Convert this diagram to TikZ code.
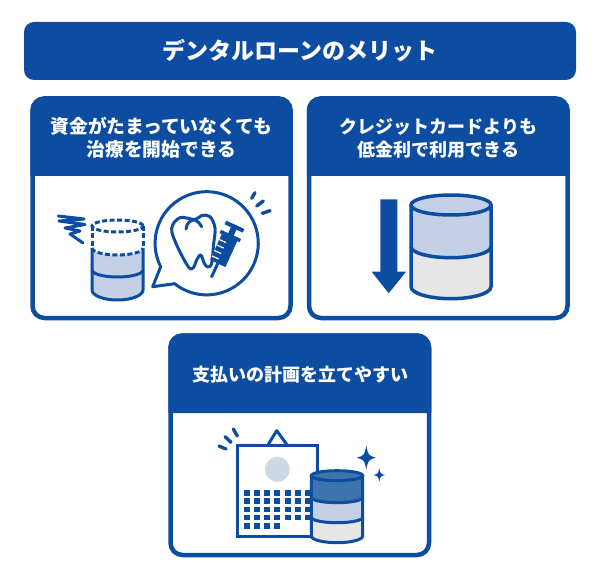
\documentclass[tikz,border=0pt]{standalone}
\usepackage{fontspec}
\setmainfont{Noto Sans CJK JP}
\definecolor{navy}{HTML}{0D4DA1}
\definecolor{paleblue}{HTML}{C3D0E6}
\definecolor{midblue}{HTML}{3D74AE}
\definecolor{palegray}{HTML}{E6E6E6}
\definecolor{moon}{HTML}{CDD8E6}
\begin{document}
\begin{tikzpicture}[
    x=1pt, y=1pt,
    banner/.style={rectangle, rounded corners=10pt, fill=navy, text=white, minimum width=552pt, minimum height=58pt, inner sep=0pt, font=\fontsize{23}{23}\selectfont\bfseries},
    headtext/.style={text=white, align=center, inner sep=0pt, font=\fontsize{18}{23}\selectfont\bfseries},
    cardline/.style={draw=navy, line width=4.5pt, fill=white, rounded corners=12pt},
    ink/.style={draw=navy, line width=3.5pt},
    thinink/.style={draw=navy, line width=3pt},
    tick/.style={draw=navy, line width=3.4pt, line cap=round},
    dashink/.style={thinink, dash pattern=on 5pt off 2.5pt}
]
\useasboundingbox (0,0) rectangle (600,-580);

% Cards
\foreach \xa/\xb/\ya/\yb/\yh in {32.5/290.5/-98.5/-318/-176, 309/567.5/-98.5/-318/-176, 170.5/429/-335.5/-555/-413} {
  \draw[cardline] (\xa,\ya) rectangle (\xb,\yb);
  \fill[navy] (\xa,\yh) [rounded corners=12pt] -- (\xa,\ya) -- (\xb,\ya) [sharp corners] -- (\xb,\yh) -- cycle;
  \draw[navy, line width=4.5pt, rounded corners=12pt] (\xa,\yh) -- (\xa,\ya) -- (\xb,\ya) -- (\xb,\yh);
}

% Titles
\node[banner] (title) at (300,-51) {\raisebox{-1pt}{デンタルローンのメリット}};
\node[headtext, font=\fontsize{18.8}{23}\selectfont\bfseries] (head1) at (161.5,-138) {資金がたまっていなくても\\治療を開始できる};
\node[headtext] (head2) at (438.5,-138) {クレジットカードよりも\\低金利で利用できる};
\node[headtext] (head3) at (300,-375) {支払いの計画を立てやすい};

% Card 1: can
\fill[paleblue] (92,-248) arc[start angle=180, end angle=360, x radius=25.5, y radius=7] -- (143,-290) arc[start angle=0, end angle=-180, x radius=25.5, y radius=10] -- cycle;
\draw[thinink] (92,-248) -- (92,-290) arc[start angle=180, end angle=360, x radius=25.5, y radius=10] -- (143,-248);
\draw[thinink] (92,-270) arc[start angle=180, end angle=360, x radius=25.5, y radius=7];
\draw[dashink] (92,-248) arc[start angle=180, end angle=360, x radius=25.5, y radius=7];
\draw[dashink] (117.5,-226) ellipse[x radius=25.5, y radius=6];
\draw[dashink] (92,-226) -- (92,-248);
\draw[dashink] (143,-226) -- (143,-248);

% Card 1: scribble
\draw[navy, line width=3pt, line join=round, line cap=round] (58.3,-216) -- (84,-219) -- (59,-221) -- (85,-224.5) -- (65,-228) -- (80,-231) -- (70,-234) -- (83,-243);

% Card 1: speech bubble
\draw[thinink, line join=round] (152.7,-286.7) -- (160.7,-266.7) arc[start angle=207, end angle=-128.4, radius=51.6] -- cycle;

% Card 1: tooth
\draw[thinink, line join=round] plot[smooth cycle, tension=0.6] coordinates {(195,-219.5) (201.7,-215.5) (210,-216.7) (215,-228.3) (213.5,-245) (211.7,-263.3) (207.7,-267) (204.3,-263.3) (200.7,-255) (196.7,-260) (193.3,-267.7) (188.3,-266.7) (176.7,-245) (171.7,-228.3) (180,-217.7)};
\draw[thinink, line cap=round] (186,-229) .. controls (186.5,-223) and (191,-219.5) .. (195,-220) .. controls (198,-221) and (200,-223.5) .. (201.7,-226.7);

% Card 1: syringe
\begin{scope}[shift={(211.7,-276.7)}, rotate=-24.5]
  \draw[thinink, line cap=round] (0,0) -- (0,14);
  \fill[navy] (-8.5,14.5) rectangle (8.5,44.5);
  \fill[navy] (-11,43) rectangle (11,46.5);
  \fill[navy] (-3,45) rectangle (3,54);
  \fill[navy] (-10,53) rectangle (10,57);
  \foreach \ty in {19,25,31,37} {
    \draw[white, line width=1.2pt] (-8.5,\ty) -- (-1,\ty);
  }
\end{scope}

% Card 1: ticks
\draw[tick] (251.7,-198.3) -- (255,-192.7);
\draw[tick] (256.7,-206) -- (263.3,-201);
\draw[tick] (262.3,-213.3) -- (270,-210.7);

% Card 2: arrow
\fill[navy] (380.3,-199.3) -- (397.3,-199.3) -- (397.3,-271.7) -- (406,-271.7) -- (388.7,-293.3) -- (371.7,-271.7) -- (380.3,-271.7) -- cycle;

% Card 2: can
\fill[palegray] (411,-246.7) arc[start angle=180, end angle=360, x radius=40, y radius=11] -- (491,-286.7) arc[start angle=0, end angle=-180, x radius=40, y radius=12] -- cycle;
\fill[paleblue] (411,-205) -- (491,-205) -- (491,-246.7) arc[start angle=0, end angle=-180, x radius=40, y radius=11] -- cycle;
\draw[ink, fill=paleblue] (451,-205) ellipse[x radius=40, y radius=10];
\draw[ink] (411,-205) -- (411,-286.7) arc[start angle=180, end angle=360, x radius=40, y radius=12] -- (491,-205);
\draw[ink] (411,-246.7) arc[start angle=180, end angle=360, x radius=40, y radius=11];

% Card 3: calendar
\draw[thinink, line join=round] (268.3,-444.3) -- (276.7,-430.7) -- (286.7,-444.3);
\draw[thinink, fill=white] (237.7,-445) rectangle (317.3,-536.7);
\fill[moon] (277.3,-469.3) circle[radius=12.5];
\foreach \cx in {247,257.3,267.3,277.3,287.7,298,308.3} {
  \foreach \cy in {492.8,501,509.3,517.3} {
    \fill[navy] (\cx-3,-\cy+2.8) rectangle (\cx+3,-\cy-2.8);
  }
}
\foreach \cx in {247,257.3,267.3,277.3} {
  \fill[navy] (\cx-3,-525.7+2.8) rectangle (\cx+3,-525.7-2.8);
}

% Card 3: can
\fill[palegray] (311.3,-517.3) arc[start angle=180, end angle=360, x radius=25.7, y radius=5.4] -- (362.7,-536) arc[start angle=0, end angle=-180, x radius=25.7, y radius=6.7] -- cycle;
\fill[paleblue] (311.3,-497.3) arc[start angle=180, end angle=360, x radius=25.7, y radius=5.4] -- (362.7,-517.3) arc[start angle=0, end angle=-180, x radius=25.7, y radius=5.4] -- cycle;
\fill[midblue] (311.3,-475.7) -- (362.7,-475.7) -- (362.7,-497.3) arc[start angle=0, end angle=-180, x radius=25.7, y radius=5.4] -- cycle;
\draw[thinink, fill=midblue] (337,-475.7) ellipse[x radius=25.7, y radius=5];
\draw[thinink] (311.3,-475.7) -- (311.3,-536) arc[start angle=180, end angle=360, x radius=25.7, y radius=6.7] -- (362.7,-475.7);
\draw[thinink] (311.3,-497.3) arc[start angle=180, end angle=360, x radius=25.7, y radius=5.4];
\draw[thinink] (311.3,-517.3) arc[start angle=180, end angle=360, x radius=25.7, y radius=5.4];

% Card 3: sparkles
\foreach \sx/\sy/\rx/\ry in {366.3/-457.7/9.5/12, 379.3/-475/5.7/6.7} {
  \fill[navy] (\sx,\sy+\ry) .. controls (\sx+0.2*\rx,\sy+0.2*\ry) .. (\sx+\rx,\sy) .. controls (\sx+0.2*\rx,\sy-0.2*\ry) .. (\sx,\sy-\ry) .. controls (\sx-0.2*\rx,\sy-0.2*\ry) .. (\sx-\rx,\sy) .. controls (\sx-0.2*\rx,\sy+0.2*\ry) .. cycle;
}

% Card 3: ticks
\draw[tick] (219,-446) -- (226,-449);
\draw[tick] (225,-436.7) -- (231,-442.3);
\draw[tick] (233.3,-429) -- (237.3,-436);

\end{tikzpicture}
\end{document}
